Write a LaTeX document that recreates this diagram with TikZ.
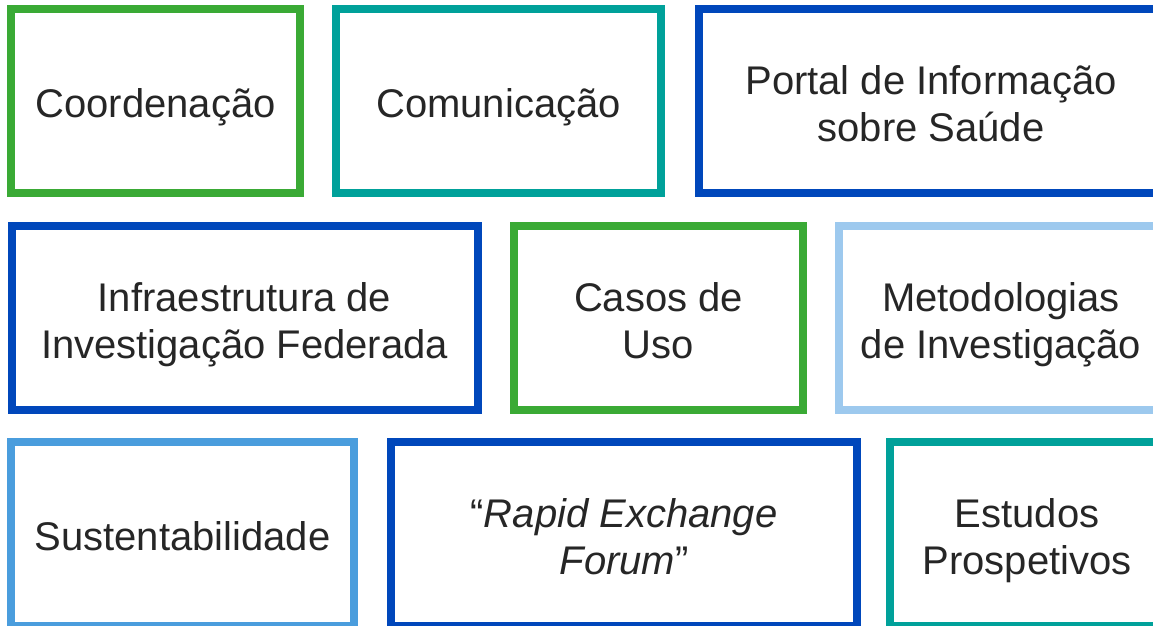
\documentclass[tikz,border=0pt]{standalone}
\usepackage{fontspec}
\setmainfont{Liberation Sans}
\usepackage{tikz}
\definecolor{boxgreen}{HTML}{3AAA35}
\definecolor{boxteal}{HTML}{00A19A}
\definecolor{boxblue}{HTML}{0047BB}
\definecolor{boxpale}{HTML}{9DC9EE}
\definecolor{boxmid}{HTML}{4A9DDD}
\definecolor{boxtext}{HTML}{262626}
\tikzset{px/.style={x=1pt, y=-1pt}}
\tikzset{tile/.style={draw=#1, line width=8pt, minimum height=184pt, inner sep=0pt,
   align=center, text=boxtext, font=\fontsize{40}{47}\selectfont,
   execute at begin node={\rule{0pt}{42pt}},
   execute at end node={\rule[-10pt]{0pt}{10pt}}},
   pair/.style={execute at begin node={\rule{0pt}{91pt}}}}

\begin{document}
\begin{tikzpicture}[px]
\useasboundingbox (0,0) rectangle (1153,625);
\clip (0,0) rectangle (1153,625);
\node[tile=boxgreen, minimum width=289pt] (coord) at (155.5,101) {Coordenação};
\node[tile=boxteal, minimum width=325pt] (comun) at (498.5,101) {Comunicação};
\node[tile=boxblue, pair, minimum width=464pt] (portal) at (931,101) {Portal de Informação\\sobre Saúde};

\node[tile=boxblue, pair, minimum width=466pt] (infra) at (244.5,317.5) {Infraestrutura de\\Investigação Federada};
\node[tile=boxgreen, pair, minimum width=289pt] (casos) at (658.5,317.5) {Casos de\\Uso};
\node[tile=boxpale, pair, minimum width=324pt] (metod) at (1001,317.5) {Metodologias\\de Investigação};

\node[tile=boxmid, minimum width=343pt] (sust) at (182.5,534) {Sustentabilidade};
\node[tile=boxblue, pair, minimum width=466pt] (rapid) at (624,534) {“\textit{Rapid Exchange}\\\textit{Forum}”};
\node[tile=boxteal, pair, minimum width=274pt] (estud) at (1027,534) {Estudos\\Prospetivos};
\end{tikzpicture}
\end{document}
